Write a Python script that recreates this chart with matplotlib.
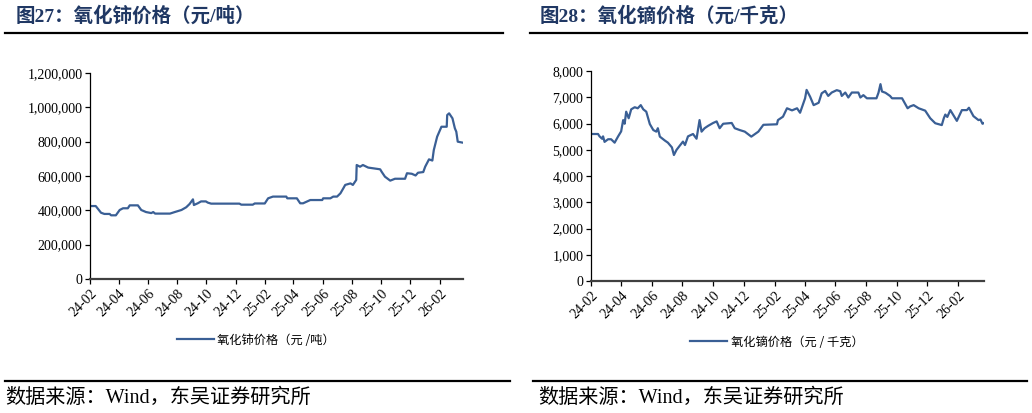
import numpy as np
import pandas as pd
import matplotlib
matplotlib.use("Agg")
import matplotlib.pyplot as plt
import matplotlib.dates as mdates
from matplotlib.lines import Line2D
from matplotlib.ticker import FuncFormatter

plt.rcParams['font.family'] = ['Liberation Serif', 'Noto Sans CJK SC', 'DejaVu Sans']

# 数据：氧化铈价格（元/吨）
ceo2_dates = [
    "2024-02-01", "2024-02-13", "2024-02-24", "2024-03-02", "2024-03-13", "2024-03-16",
    "2024-03-26", "2024-04-03", "2024-04-10", "2024-04-20", "2024-04-24", "2024-05-11",
    "2024-05-18", "2024-05-28", "2024-06-08", "2024-06-12", "2024-06-16", "2024-07-17",
    "2024-07-27", "2024-08-10", "2024-08-20", "2024-08-27", "2024-09-03", "2024-09-05",
    "2024-09-13", "2024-09-20", "2024-09-30", "2024-10-04", "2024-10-11", "2024-12-09",
    "2024-12-13", "2025-01-06", "2025-01-10", "2025-01-31", "2025-02-07", "2025-02-17",
    "2025-03-17", "2025-03-19", "2025-04-08", "2025-04-15", "2025-04-21", "2025-05-06",
    "2025-05-31", "2025-06-02", "2025-06-17", "2025-06-23", "2025-07-01", "2025-07-08",
    "2025-07-14", "2025-07-18", "2025-07-29", "2025-08-03", "2025-08-10", "2025-08-11",
    "2025-08-18", "2025-08-24", "2025-09-04", "2025-09-29", "2025-10-02", "2025-10-09",
    "2025-10-20", "2025-10-30", "2025-11-20", "2025-11-24", "2025-12-04", "2025-12-12",
    "2025-12-17", "2025-12-28", "2026-01-01", "2026-01-09", "2026-01-16", "2026-01-19",
    "2026-01-26", "2026-02-04", "2026-02-15", "2026-02-16", "2026-02-20", "2026-02-27",
    "2026-03-04", "2026-03-07", "2026-03-10", "2026-03-19",
]
ceo2_prices = [
    425000, 425000, 386000, 379000, 379000, 371000,
    371000, 402000, 412000, 412000, 429000, 429000,
    402000, 390000, 384000, 390000, 381000, 381000,
    390000, 402000, 418000, 437000, 464000, 431000,
    441000, 452000, 452000, 445000, 439000, 439000,
    433000, 433000, 440000, 440000, 470000, 480000,
    480000, 470000, 470000, 441000, 441000, 460000,
    460000, 470000, 470000, 480000, 480000, 499000,
    528000, 548000, 557000, 548000, 577000, 664000,
    654000, 664000, 649000, 639000, 625000, 596000,
    573000, 584000, 584000, 616000, 613000, 603000,
    619000, 623000, 654000, 697000, 690000, 751000,
    829000, 887000, 887000, 955000, 965000, 936000,
    878000, 858000, 800000, 795000,
]

# 数据：氧化镝价格（元/千克）
dy2o3_dates = [
    "2024-02-01", "2024-02-15", "2024-02-18", "2024-02-23", "2024-02-25", "2024-02-28",
    "2024-03-06", "2024-03-12", "2024-03-19", "2024-03-26", "2024-04-01", "2024-04-05",
    "2024-04-08", "2024-04-11", "2024-04-16", "2024-04-21", "2024-04-28", "2024-05-04",
    "2024-05-10", "2024-05-15", "2024-05-21", "2024-05-28", "2024-06-04", "2024-06-10",
    "2024-06-13", "2024-06-17", "2024-06-27", "2024-07-03", "2024-07-11", "2024-07-15",
    "2024-07-20", "2024-07-26", "2024-08-02", "2024-08-06", "2024-08-12", "2024-08-22",
    "2024-08-29", "2024-09-04", "2024-09-08", "2024-09-14", "2024-09-21", "2024-10-01",
    "2024-10-08", "2024-10-14", "2024-10-21", "2024-11-07", "2024-11-13", "2024-11-23",
    "2024-12-03", "2024-12-16", "2024-12-30", "2025-01-09", "2025-02-05", "2025-02-07",
    "2025-02-17", "2025-02-25", "2025-03-07", "2025-03-17", "2025-03-23", "2025-04-02",
    "2025-04-05", "2025-04-12", "2025-04-19", "2025-04-29", "2025-05-05", "2025-05-12",
    "2025-05-18", "2025-05-25", "2025-06-04", "2025-06-11", "2025-06-14", "2025-06-21",
    "2025-06-27", "2025-07-04", "2025-07-17", "2025-07-21", "2025-07-27", "2025-08-03",
    "2025-08-22", "2025-08-26", "2025-08-30", "2025-09-02", "2025-09-09", "2025-09-18",
    "2025-09-22", "2025-10-12", "2025-10-23", "2025-10-28", "2025-11-04", "2025-11-14",
    "2025-11-27", "2025-12-07", "2025-12-17", "2025-12-30", "2026-01-03", "2026-01-06",
    "2026-01-10", "2026-01-16", "2026-01-29", "2026-02-08", "2026-02-18", "2026-02-22",
    "2026-03-03", "2026-03-13", "2026-03-17", "2026-03-21", "2026-03-24",
]
dy2o3_prices = [
    5600, 5600, 5510, 5420, 5510, 5300,
    5400, 5400, 5270, 5510, 5700, 6130,
    5990, 6450, 6200, 6540, 6620, 6580,
    6700, 6540, 6450, 5980, 5750, 5690,
    5820, 5500, 5350, 5270, 5090, 4800,
    4990, 5140, 5310, 5180, 5510, 5600,
    5420, 6130, 5690, 5820, 5910, 6020,
    6080, 5820, 5990, 6020, 5820, 5750,
    5690, 5500, 5690, 5950, 5970, 6130,
    6260, 6580, 6500, 6580, 6410, 6960,
    7280, 7020, 6700, 6790, 7150, 7240,
    7050, 7180, 7270, 7230, 7050, 7180,
    6990, 7180, 7180, 6990, 7080, 6960,
    6960, 7170, 7500, 7220, 7170, 7050,
    6960, 6960, 6580, 6650, 6700, 6580,
    6490, 6200, 6010, 5940, 6200, 6340,
    6250, 6510, 6100, 6510, 6510, 6600,
    6280, 6130, 6150, 5990, 6020,
]

titles = ["图27：氧化铈价格（元/吨）", "图28：氧化镝价格（元/千克）"]
legend_labels = ["氧化铈价格（元 /吨）", "氧化镝价格（元 / 千克）"]
source_text = "数据来源：Wind，东吴证券研究所"
y_ticks_ceo2 = [0, 200000, 400000, 600000, 800000, 1000000, 1200000]
y_ticks_dy2o3 = [0, 1000, 2000, 3000, 4000, 5000, 6000, 7000, 8000]

line_color = "#3a5f95"
title_color = "#203864"

W, H = 1032, 413
fig = plt.figure(figsize=(W / 100, H / 100), dpi=100)


def fx(px):
    return px / W


def fy(py):
    return 1 - py / H


def draw_panel(rect, dates, values, yticks, xend, label, leg_xy):
    ax = fig.add_axes(rect)
    d = pd.to_datetime(dates)
    ax.plot(d, values, color=line_color, lw=1.6, label=label)
    ax.set_xlim(pd.Timestamp("2024-02-01"), pd.Timestamp(xend))
    ax.set_ylim(yticks[0], yticks[-1])
    ax.set_yticks(yticks)
    ax.yaxis.set_major_formatter(FuncFormatter(lambda v, p: f"{v:,.0f}"))
    ax.xaxis.set_major_locator(mdates.MonthLocator(bymonth=[2, 4, 6, 8, 10, 12]))
    ax.xaxis.set_major_formatter(mdates.DateFormatter("%y-%m"))
    for s in ["top", "right"]:
        ax.spines[s].set_visible(False)
    ax.spines["left"].set_color("black")
    ax.spines["left"].set_linewidth(0.9)
    ax.spines["bottom"].set_color("#404040")
    ax.spines["bottom"].set_linewidth(1.6)
    ax.tick_params(axis="both", direction="out", length=3.5, width=0.9,
                   labelsize=10, colors="black", pad=2)
    for lab in ax.get_xticklabels():
        lab.set_rotation(45)
        lab.set_ha("right")
        lab.set_rotation_mode("anchor")
    ax.legend(loc="center", bbox_to_anchor=leg_xy, bbox_transform=fig.transFigure,
              frameon=False, handlelength=3.0, handletextpad=0.3,
              prop={"family": ["Noto Sans CJK SC"], "size": 8.8})
    return ax


draw_panel([fx(90), fy(279), fx(463) - fx(90), fy(73) - fy(279)],
           ceo2_dates, ceo2_prices, y_ticks_ceo2, "2026-03-21",
           legend_labels[0], (fx(256), fy(340)))
draw_panel([fx(591), fy(281), fx(984) - fx(591), fy(71) - fy(281)],
           dy2o3_dates, dy2o3_prices, y_ticks_dy2o3, "2026-03-24",
           legend_labels[1], (fx(777), fy(342)))

# 标题与分隔线
fig.text(fx(16), fy(16), titles[0], fontsize=14, fontweight="bold",
         color=title_color, va="center", ha="left")
fig.text(fx(540), fy(16), titles[1], fontsize=14, fontweight="bold",
         color=title_color, va="center", ha="left")
fig.add_artist(Line2D([fx(5), fx(503)], [fy(33), fy(33)], color="black", lw=1.6))
fig.add_artist(Line2D([fx(530), fx(1027)], [fy(33), fy(33)], color="black", lw=1.6))

# 数据来源
fig.add_artist(Line2D([fx(5), fx(510)], [fy(381), fy(381)], color="black", lw=1.6))
fig.add_artist(Line2D([fx(533), fx(1027)], [fy(381), fy(381)], color="black", lw=1.6))
fig.text(fx(5), fy(398), source_text, fontsize=14.5, va="center", ha="left")
fig.text(fx(538), fy(398), source_text, fontsize=14.5, va="center", ha="left")

fig.savefig("out.png", dpi=100)
